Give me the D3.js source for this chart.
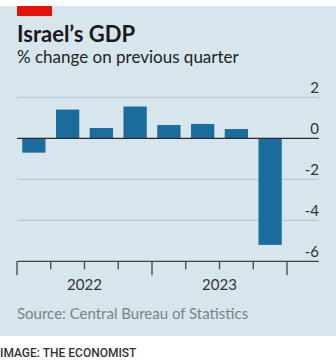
<!DOCTYPE html>
<html>
<head>
<meta charset="utf-8">
<script src="https://cdn.jsdelivr.net/npm/d3@7"></script>
<style>
  body { margin: 0; background: #fff; }
  svg { display: block; }
</style>
</head>
<body>
<script>
// Data
var quarters = ["Q1 2022", "Q2 2022", "Q3 2022", "Q4 2022", "Q1 2023", "Q2 2023", "Q3 2023", "Q4 2023"];
var gdpChange = [-0.7, 1.4, 0.5, 1.55, 0.65, 0.7, 0.45, -5.2];
var yTicks = [2, 0, -2, -4, -6];
var years = ["2022", "2023"];

var W = 336, H = 364;
var plotLeft = 17, plotRight = 319, plotTop = 97.3, plotBottom = 261.3;

var svg = d3.select("body").append("svg")
  .attr("width", W)
  .attr("height", H);

// panel background
svg.append("rect")
  .attr("x", 0).attr("y", 6)
  .attr("width", W).attr("height", 330)
  .attr("fill", "#d7e5ec");

// red tag
svg.append("rect")
  .attr("x", 17).attr("y", 6)
  .attr("width", 35).attr("height", 10)
  .attr("fill", "#e3120b");

// titles
svg.append("text")
  .attr("x", 17).attr("y", 42)
  .style("font-family", "Lato, sans-serif")
  .style("font-weight", 700)
  .style("font-size", "22px")
  .style("fill", "#1a1a1a")
  .text("Israel\u2019s GDP");

svg.append("text")
  .attr("x", 17).attr("y", 63)
  .style("font-family", "Lato, sans-serif")
  .style("font-size", "17px")
  .style("fill", "#222")
  .text("% change on previous quarter");

// scales
var x = d3.scaleBand().domain(quarters).range([plotLeft, 287]).paddingInner(0.31).paddingOuter(0.155);
var y = d3.scaleLinear().domain([-6, 2]).range([plotBottom, plotTop]);

// gridlines
svg.append("g")
  .selectAll("line")
  .data(yTicks.filter(function (d) { return d !== 0 && d !== -6; }))
  .join("line")
  .attr("x1", plotLeft).attr("x2", plotRight)
  .attr("y1", function (d) { return y(d); })
  .attr("y2", function (d) { return y(d); })
  .attr("stroke", "#b3c4cc")
  .attr("stroke-width", 1);

// y labels
svg.append("g")
  .selectAll("text")
  .data(yTicks)
  .join("text")
  .attr("x", plotRight)
  .attr("y", function (d) { return y(d) - 4.5; })
  .attr("text-anchor", "end")
  .style("font-family", "Lato, sans-serif")
  .style("font-size", "15px")
  .style("fill", "#333")
  .text(function (d) { return d < 0 ? "-" + Math.abs(d) : d; });

// bars
svg.append("g")
  .selectAll("rect")
  .data(gdpChange)
  .join("rect")
  .attr("x", function (d, i) { return x(quarters[i]); })
  .attr("width", x.bandwidth())
  .attr("y", function (d) { return y(Math.max(0, d)); })
  .attr("height", function (d) { return Math.abs(y(d) - y(0)); })
  .attr("fill", "#1b6d9d");

// zero line
svg.append("line")
  .attr("x1", plotLeft).attr("x2", plotRight)
  .attr("y1", y(0)).attr("y2", y(0))
  .attr("stroke", "#2b2b2b")
  .attr("stroke-width", 1.3);

// x axis
var step = x.step();
var tickX = d3.range(quarters.length + 1).map(function (i) { return plotLeft + i * step; });
var axis = svg.append("g");
axis.append("line")
  .attr("x1", plotLeft).attr("x2", plotRight)
  .attr("y1", plotBottom).attr("y2", plotBottom)
  .attr("stroke", "#444")
  .attr("stroke-width", 1.3);
axis.selectAll("line.tick")
  .data(tickX)
  .join("line")
  .attr("class", "tick")
  .attr("x1", function (d) { return d; })
  .attr("x2", function (d) { return d; })
  .attr("y1", plotBottom)
  .attr("y2", function (d, i) { return i % 4 === 0 ? plotBottom + 14 : plotBottom + 8; })
  .attr("stroke", "#444")
  .attr("stroke-width", 1.3);
axis.selectAll("text")
  .data(years)
  .join("text")
  .attr("x", function (d, i) { return plotLeft + (i * 4 + 2) * step; })
  .attr("y", 290)
  .attr("text-anchor", "middle")
  .style("font-family", "Lato, sans-serif")
  .style("font-size", "15px")
  .style("fill", "#333")
  .text(function (d) { return d; });

// source
svg.append("text")
  .attr("x", 17).attr("y", 319)
  .style("font-family", "Lato, sans-serif")
  .style("font-size", "15px")
  .style("fill", "#78848a")
  .text("Source: Central Bureau of Statistics");

// credit
svg.append("text")
  .attr("x", 0).attr("y", 357)
  .style("font-family", "Roboto, sans-serif")
  .style("font-weight", 500)
  .style("font-size", "12px")
  .style("fill", "#333")
  .text("IMAGE: THE ECONOMIST");
</script>
</body>
</html>
